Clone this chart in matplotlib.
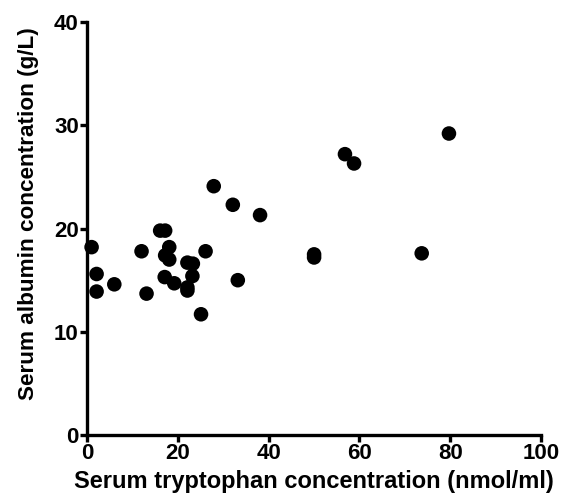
import matplotlib.pyplot as plt

# serum tryptophan (nmol/ml) vs serum albumin (g/L)
tryptophan = [1.0, 2.1, 2.1, 6.0, 12.0, 13.1, 16.1, 17.2, 17.2, 18.1, 18.1,
              17.1, 19.2, 22.1, 23.3, 23.2, 22.1, 22.1, 25.1, 26.1, 27.9,
              32.1, 33.2, 38.1, 50.0, 50.0, 56.8, 58.8, 73.7, 79.7]
albumin = [18.2, 15.6, 13.9, 14.6, 17.8, 13.7, 19.8, 19.8, 17.4, 18.2, 17.0,
           15.3, 14.7, 16.7, 16.6, 15.4, 14.3, 14.0, 11.7, 17.8, 24.1,
           22.3, 15.0, 21.3, 17.5, 17.2, 27.2, 26.3, 17.6, 29.2]

plt.rcParams['font.family'] = ['Liberation Sans', 'DejaVu Sans']

fig = plt.figure(figsize=(5.69, 4.99), dpi=100)
ax = fig.add_axes([0.153, 0.128, 0.798, 0.828])

ax.scatter(tryptophan, albumin, s=110, c="black", edgecolors="none", clip_on=False, zorder=3)

ax.set_xlim(0, 100)
ax.set_ylim(0, 40)
ax.set_xticks([0, 20, 40, 60, 80, 100])
ax.set_yticks([0, 10, 20, 30, 40])

for side in ["top", "right"]:
    ax.spines[side].set_visible(False)
for side in ["left", "bottom"]:
    ax.spines[side].set_linewidth(2.4)

ax.tick_params(width=2.4, length=5, labelsize=16, pad=1)
for lab in ax.get_xticklabels() + ax.get_yticklabels():
    lab.set_fontweight("bold")

ax.set_xlabel("Serum tryptophan concentration (nmol/ml)", fontsize=17, fontweight="bold", labelpad=4)
ax.set_ylabel("Serum albumin concentration (g/L)", fontsize=16.2, fontweight="bold")
ax.yaxis.set_label_coords(-0.106, 0.535)

fig.savefig("out.png", dpi=100)
